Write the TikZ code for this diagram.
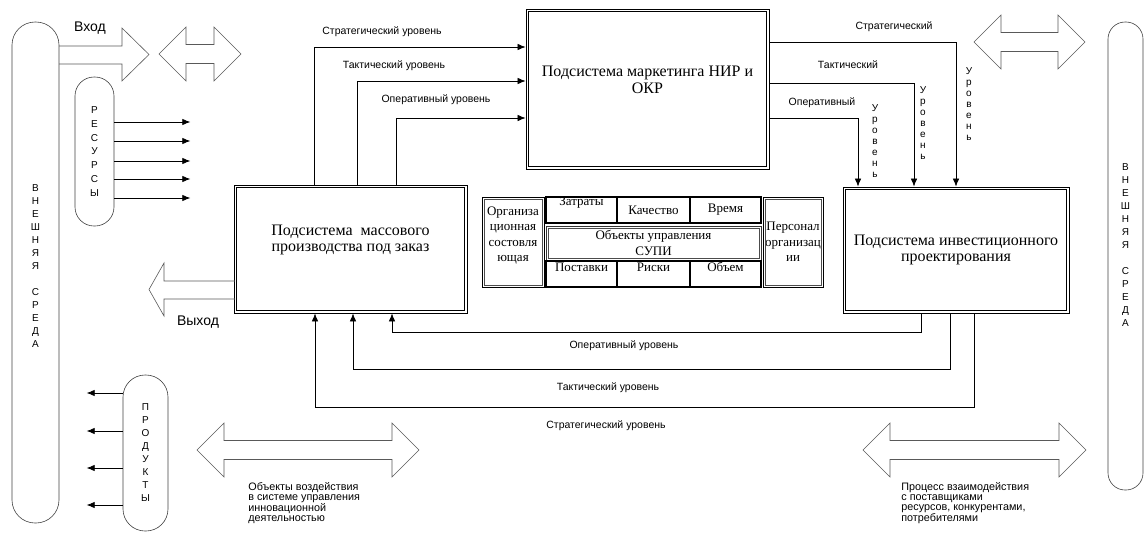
\documentclass[tikz,border=0pt]{standalone}
\usepackage{fontspec}
\setmainfont{Liberation Serif}
\newfontfamily\labelfont{Liberation Sans}
\usetikzlibrary{arrows.meta}
\newcommand{\twoway}[3]{%
	\draw[blockarrow] (#1,#3) -- (#1+27,#3-27) -- (#1+27,#3-9.5) -- (#2-27,#3-9.5) -- (#2-27,#3-27) -- (#2,#3) -- (#2-27,#3+27) -- (#2-27,#3+9.5) -- (#1+27,#3+9.5) -- (#1+27,#3+27) -- cycle;}
\begin{document}
\begin{tikzpicture}[>={Latex[length=8pt,width=6.5pt]},x=1pt,y=-1pt,line width=0.7pt,
	sysbox/.style={draw,line width=0.8pt,inner sep=0pt},
	capsule/.style={draw=black!75,line width=0.6pt,inner sep=0pt},
	blockarrow/.style={draw=black!65,line width=0.6pt,line join=miter},
	cell/.style={draw,line width=1.3pt,inner sep=0pt,minimum width=71pt,minimum height=26pt,font=\fontsize{13}{15.5}\selectfont},
	celltext/.style={align=center,font=\fontsize{13}{15.5}\selectfont},
	boxtext/.style={align=center,font=\fontsize{16}{16.5}\selectfont},
	lvl/.style={font=\labelfont\fontsize{10.5}{12}\selectfont,inner sep=0pt},
	letters/.style={font=\labelfont\fontsize{10}{13}\selectfont,align=center,inner sep=0pt},
	note/.style={font=\labelfont\fontsize{10.8}{9.9}\selectfont,align=left,inner sep=0pt,anchor=north west}]
	\useasboundingbox (0,0) rectangle (1146,533);
	\node[capsule,rounded corners=23pt,minimum width=47pt,minimum height=501pt,label={[letters,yshift=6pt]center:В\\Н\\Е\\Ш\\Н\\Я\\Я\\\mbox{}\\С\\Р\\Е\\Д\\А}] (envleft) at (35.5,272.5) {};
	\node[capsule,rounded corners=17pt,minimum width=35pt,minimum height=468pt,label={[letters,yshift=11pt]center:В\\Н\\Е\\Ш\\Н\\Я\\Я\\\mbox{}\\С\\Р\\Е\\Д\\А}] (envright) at (1125.5,256) {};
	\node[capsule,rounded corners=19pt,minimum width=39pt,minimum height=149pt,letters,font=\labelfont\fontsize{10}{13.7}\selectfont] (resources) at (94.5,151.5) {Р\\Е\\С\\У\\Р\\С\\Ы};
	\node[capsule,rounded corners=22pt,minimum width=45pt,minimum height=156pt,letters] (products) at (145.5,453) {П\\Р\\О\\Д\\У\\К\\Т\\Ы};
	\node[sysbox,minimum width=233pt,minimum height=128pt,label={[boxtext,yshift=9pt]center:Подсистема\ \ массового\\производства под заказ}] (massprod) at (350.5,249) {};
	\node[sysbox,minimum width=243pt,minimum height=160pt,label={[boxtext,yshift=9pt]center:Подсистема маркетинга НИР и\\ОКР}] (marketing) at (647.5,89) {};
	\node[sysbox,minimum width=226pt,minimum height=126pt,label={[boxtext]center:Подсистема инвестиционного\\проектирования}] (invest) at (956,250) {};
	\node[sysbox,line width=1pt,minimum width=62pt,minimum height=90pt,label={[celltext,yshift=6.5pt]center:Организа\\ционная\\состовля\\ющая}] (orgcol) at (513,242) {};
	\node[cell,label={[celltext,yshift=7pt]center:Затраты}] (zatr) at (581.5,210) {};
	\node[cell,minimum width=73pt] (kach) at (653.5,210) {Качество};
	\node[cell] (vrem) at (725.5,210) {Время};
	\node[sysbox,draw=black!80,line width=1pt,minimum width=215pt,minimum height=34pt,celltext] (obj) at (653.5,243) {Объекты управления\\СУПИ};
	\node[cell,label={[celltext,yshift=7pt]center:Поставки}] (post) at (581.5,274) {};
	\node[cell,minimum width=73pt,label={[celltext,yshift=7pt]center:Риски}] (risk) at (653.5,274) {};
	\node[cell,label={[celltext,yshift=7pt]center:Объем}] (obem) at (725.5,274) {};
	\node[sysbox,line width=1pt,minimum width=60pt,minimum height=90pt,label={[celltext]center:Персонал\\организац\\ии}] (pers) at (793,242) {};
	\foreach \n in {massprod,marketing,invest}
		\draw[line width=0.7pt] ([shift={(2.6pt,-2.6pt)}]\n.north west) rectangle ([shift={(-2.6pt,2.6pt)}]\n.south east);
	\foreach \n in {orgcol,obj,pers}
		\draw[line width=0.7pt,black!70] ([shift={(2.4pt,-2.4pt)}]\n.north west) rectangle ([shift={(-2.4pt,2.4pt)}]\n.south east);
	\draw[blockarrow] (59,46) -- (122,46) -- (122,28) -- (149,54.5) -- (122,81) -- (122,64) -- (59,64);
	\draw[blockarrow] (235,281) -- (164,281) -- (164,263) -- (149,289.5) -- (164,316) -- (164,299) -- (235,299);
	\twoway{159}{241}{54}
	\twoway{974}{1085}{42}
	\twoway{197}{419}{450}
	\twoway{863}{1086}{450}
	\node[font=\labelfont\fontsize{14}{16}\selectfont,inner sep=0pt] (inlabel) at (90,28) {Вход};
	\node[font=\labelfont\fontsize{14}{16}\selectfont,inner sep=0pt] (outlabel) at (198,322) {Выход};
	\foreach \d in {29.5,10.5,-9.5,-27.5,-46.5}
		\draw[->] ([yshift=\d pt]resources.east) -- ++(76,0);
	\foreach \d in {60,22,-15,-52}
		\draw[->] ([yshift=\d pt]products.west) -- ++(-36,0);
	\draw[->] ([xshift=81pt]massprod.north west) |- ([yshift=42pt]marketing.west);
	\draw[->] ([xshift=124pt]massprod.north west) |- ([yshift=8pt]marketing.west);
	\draw[->] ([xshift=163pt]massprod.north west) |- ([yshift=-29pt]marketing.west);
	\draw[->] ([yshift=47pt]marketing.east) -| (invest.north);
	\draw[->] ([yshift=6pt]marketing.east) -| ([xshift=-42pt]invest.north);
	\draw[->] ([yshift=-29pt]marketing.east) -| ([xshift=-98pt]invest.north);
	\draw[->] ([xshift=-35pt]invest.south) -- ++(0,19) -| ([xshift=41.5pt]massprod.south);
	\draw[->] ([xshift=-6pt]invest.south) -- ++(0,56) -| ([xshift=2.5pt]massprod.south);
	\draw[->] ([xshift=18pt]invest.south) -- ++(0,94) -| ([xshift=-35.5pt]massprod.south);
	\node[lvl] (strattop) at (382,32) {Стратегический уровень};
	\node[lvl] (tacttop) at (394,66) {Тактический уровень};
	\node[lvl] (opertop) at (436,100) {Оперативный уровень};
	\node[lvl] (stratright) at (894,27) {Стратегический};
	\node[lvl] (tactright) at (848,65) {Тактический};
	\node[lvl] (operright) at (822,103) {Оперативный};
	\node[letters,font=\labelfont\fontsize{10}{11}\selectfont] (stratlvl) at (969,104) {У\\р\\о\\в\\е\\н\\ь};
	\node[letters,font=\labelfont\fontsize{10}{11}\selectfont] (tactlvl) at (923,123) {У\\р\\о\\в\\е\\н\\ь};
	\node[letters,font=\labelfont\fontsize{10}{11}\selectfont] (operlvl) at (875,141.5) {У\\р\\о\\в\\е\\н\\ь};
	\node[lvl] (operbot) at (624,346) {Оперативный уровень};
	\node[lvl] (tactbot) at (608,388) {Тактический уровень};
	\node[lvl] (stratbot) at (606,426) {Стратегический уровень};
	\node[note] (objnote) at (248,482) {Объекты воздействия\\в системе управления\\инновационной\\деятельностью};
	\node[note] (procnote) at (901,482) {Процесс взаимодействия\\с поставщиками\\ресурсов, конкурентами,\\потребителями};
\end{tikzpicture}
\end{document}
